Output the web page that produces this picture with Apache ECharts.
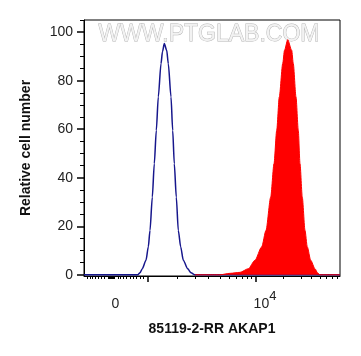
<!DOCTYPE html>
<html>
<head>
<meta charset="utf-8">
<script src="https://cdn.jsdelivr.net/npm/echarts@6/dist/echarts.min.js"></script>
<style>
html,body{margin:0;padding:0;background:#fff;}
#chart{width:361px;height:356px;}
</style>
</head>
<body>
<div id="chart"></div>
<script>
// Display channel scale (logicle-like), 0..256
var xMin = 0, xMax = 256;
var yMin = -0.5, yMax = 105;

// Isotype control (blue outline): [channel, relative cell number]
var controlSeries = [
  [0,0],[53.7,0],[56,0.8],[58.3,2.5],[62,6],[64.3,11.5],[66,18.3],[68.3,32],[70.3,45.8],
  [72.3,59.5],[74.3,73.3],[77,87],[78.5,92],[80.3,95.3],[82.7,92.5],[84.3,87],
  [87,73.3],[88.7,59.5],[90.3,45.8],[92.3,32],[94.3,18.3],[96.7,11.5],[99.3,6],
  [103.7,2.5],[107,0.8],[111,0],[256,0]
];
// 85119-2-RR AKAP1 stained (red filled)
var stainedSeries = [
  [111,0],[136,0],[146,0.6],[156,1.0],[164.3,2.5],[171,6],[177.7,11.5],[182,18.3],
  [186.7,32],[190,45.8],[192.7,59.5],[195.3,73.3],[198.7,87],[200.5,92.5],[203.7,96.9],
  [207.7,92.5],[209.3,87],[212,73.3],[214.3,59.5],[216,45.8],[218.3,32],[221,18.3],
  [223.3,11.5],[226.7,6],[231,2.5],[233.5,0.8],[236,0],[256,0]
];

// Tick labels
var xLabelValues = [31.5, 181];
var xLabelTexts = ['0', '10^4'];
var xMajorTicks = [63.5, 171.5];
var xMinorTicks = [3.3,6,8.7,11.7,14.3,17,20,24,25,26,27,28,29,30,34,36.7,39.3,42.7,46,49.3,52.7,56,59.3,
  93,111,124,136,145.5,152.5,158.5,163.5,167.5,
  199,217.7,227.7,236,242.7,248.7,253.3];
var yLabelValues = [0,20,40,60,80,100];
var yMinorTicks = [5,10,15,25,30,35,45,50,55,65,70,75,85,90,95,105];

var xTitle = '85119-2-RR AKAP1';
var yTitle = 'Relative cell number';
var watermark = 'WWW.PTGLAB.COM';

var FONT = "'Liberation Sans', Arial, sans-serif";

var chart = echarts.init(document.getElementById('chart'), null, {renderer:'canvas'});
var option = {
  animation:false,
  backgroundColor:'#ffffff',
  grid:{left:84, right:21, top:20, bottom:80, show:true, borderColor:'#000', borderWidth:1, backgroundColor:'transparent'},
  graphic:[{
    type:'text', left:98, top:23, z:-1, silent:true,
    style:{text:watermark, font:'23px ' + FONT, fill:'#f2f2f2', stroke:'#b4b4b4', lineWidth:0.9}
  }],
  xAxis:[{
    type:'value', min:xMin, max:xMax, position:'bottom',
    splitLine:{show:false},
    axisLine:{show:true, onZero:false, lineStyle:{color:'#000', width:1}},
    axisTick:{show:true, customValues:xMajorTicks, length:6, lineStyle:{color:'#000', width:1.5}},
    axisLabel:{show:true, customValues:xLabelValues, margin:14, color:'#222', fontFamily:FONT, fontSize:14,
      formatter:function(v){
        var i = xLabelValues.indexOf(v);
        var t = i >= 0 ? xLabelTexts[i] : '';
        if (t.indexOf('^') > 0) { var p = t.split('^'); return '{a|' + p[0] + '}{b|' + p[1] + '}'; }
        return '{a|' + t + '}';
      },
      rich:{
        a:{fontSize:14, fontFamily:FONT, color:'#222', verticalAlign:'bottom', lineHeight:21},
        b:{fontSize:13, fontFamily:FONT, color:'#222', verticalAlign:'top', lineHeight:21}
      }
    },
    name:xTitle, nameLocation:'middle', nameGap:46,
    nameTextStyle:{fontFamily:FONT, fontSize:14, fontWeight:'bold', color:'#111'}
  },{
    type:'value', min:xMin, max:xMax, position:'bottom',
    splitLine:{show:false}, axisLine:{show:false, onZero:false},
    axisTick:{show:true, customValues:xMinorTicks, length:3, lineStyle:{color:'#000', width:1}},
    axisLabel:{show:false}
  }],
  yAxis:[{
    type:'value', min:yMin, max:yMax, position:'left',
    splitLine:{show:false},
    axisLine:{show:true, onZero:false, lineStyle:{color:'#000', width:1}},
    axisTick:{show:true, customValues:yLabelValues, length:7, lineStyle:{color:'#000', width:1.5}},
    axisLabel:{show:true, customValues:yLabelValues, margin:11, color:'#222', fontFamily:FONT, fontSize:14},
    name:yTitle, nameLocation:'middle', nameGap:51,
    nameTextStyle:{fontFamily:FONT, fontSize:14, fontWeight:'bold', color:'#111'}
  },{
    type:'value', min:yMin, max:yMax, position:'left',
    splitLine:{show:false}, axisLine:{show:false, onZero:false},
    axisTick:{show:true, customValues:yMinorTicks, length:4, lineStyle:{color:'#000', width:1}},
    axisLabel:{show:false}
  }],
  series:[{
    type:'line', name:'control', data:controlSeries, xAxisIndex:0, yAxisIndex:0,
    showSymbol:false, smooth:0.25, smoothMonotone:'x', z:3,
    lineStyle:{color:'#16168c', width:1.5}
  },{
    type:'line', name:'AKAP1', data:stainedSeries, xAxisIndex:0, yAxisIndex:0,
    showSymbol:false, smooth:0.25, smoothMonotone:'x', z:4,
    lineStyle:{color:'#ff0000', width:1},
    areaStyle:{color:'#ff0000', opacity:1}
  }]
};
chart.setOption(option);
</script>
</body>
</html>
